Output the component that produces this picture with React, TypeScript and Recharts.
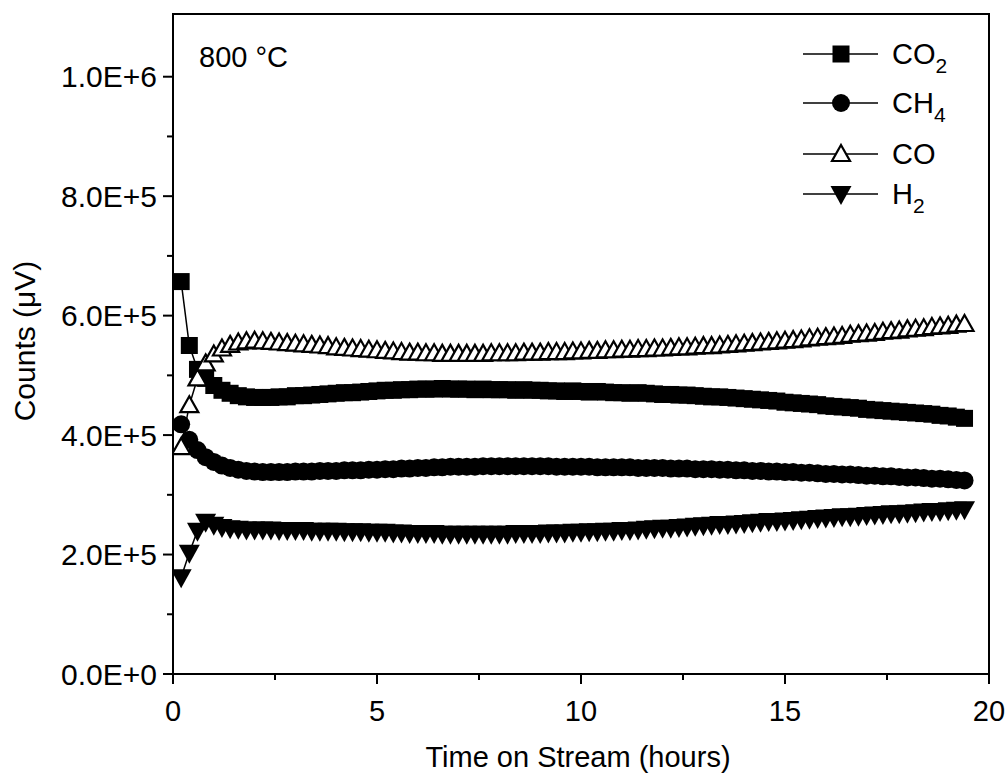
import React from "react";
import { LineChart, Line, XAxis, YAxis, ReferenceArea, Legend } from "recharts";

// Time on stream (hours)
const TIME = [
  0.2, 0.4, 0.6, 0.8, 1.0, 1.2, 1.4, 1.6, 1.8, 2.0,
  2.2, 2.4, 2.6, 2.8, 3.0, 3.2, 3.4, 3.6, 3.8, 4.0,
  4.2, 4.4, 4.6, 4.8, 5.0, 5.2, 5.4, 5.6, 5.8, 6.0,
  6.2, 6.4, 6.6, 6.8, 7.0, 7.2, 7.4, 7.6, 7.8, 8.0,
  8.2, 8.4, 8.6, 8.8, 9.0, 9.2, 9.4, 9.6, 9.8, 10.0,
  10.2, 10.4, 10.6, 10.8, 11.0, 11.2, 11.4, 11.6, 11.8, 12.0,
  12.2, 12.4, 12.6, 12.8, 13.0, 13.2, 13.4, 13.6, 13.8, 14.0,
  14.2, 14.4, 14.6, 14.8, 15.0, 15.2, 15.4, 15.6, 15.8, 16.0,
  16.2, 16.4, 16.6, 16.8, 17.0, 17.2, 17.4, 17.6, 17.8, 18.0,
  18.2, 18.4, 18.6, 18.8, 19.0, 19.2, 19.4,
];

// Counts in thousands of µV
const CO2_K = [
  657, 550, 510, 495, 483, 475, 470, 466, 464, 463,
  463, 463, 464, 464, 466, 466, 467, 468, 469, 470,
  471, 471, 472, 473, 474, 475, 475, 476, 476, 477,
  477, 477, 478, 477, 477, 477, 476, 477, 476, 476,
  476, 475, 476, 475, 475, 474, 474, 473, 474, 473,
  472, 473, 472, 471, 471, 470, 471, 470, 469, 468,
  468, 467, 467, 466, 465, 464, 464, 463, 462, 461,
  460, 459, 458, 457, 455, 454, 453, 452, 451, 449,
  448, 447, 446, 445, 443, 442, 441, 440, 439, 438,
  437, 436, 435, 433, 432, 430, 428,
];

const CH4_K = [
  418, 392, 375, 363, 355, 349, 345, 342, 340, 339,
  338, 338, 338, 338, 339, 339, 339, 340, 340, 340,
  341, 341, 341, 342, 342, 343, 343, 344, 344, 345,
  345, 346, 346, 347, 347, 347, 347, 348, 348, 348,
  348, 348, 348, 348, 348, 348, 347, 347, 347, 347,
  347, 346, 346, 346, 346, 346, 345, 345, 345, 345,
  344, 344, 344, 343, 343, 343, 342, 342, 341, 341,
  340, 340, 339, 339, 338, 338, 337, 337, 336, 335,
  335, 334, 334, 333, 332, 332, 331, 331, 330, 329,
  329, 328, 327, 327, 326, 325, 324,
];

const CO_K = [
  380, 450, 495, 520, 535, 545, 551, 555, 557, 558,
  557, 556, 555, 554, 553, 552, 551, 550, 549, 547,
  546, 545, 544, 543, 542, 541, 540, 539, 538, 538,
  537, 537, 536, 536, 536, 536, 536, 536, 537, 537,
  537, 537, 538, 538, 538, 539, 539, 539, 540, 540,
  541, 541, 542, 542, 543, 543, 544, 544, 545, 545,
  546, 547, 547, 548, 549, 549, 550, 551, 552, 553,
  554, 555, 556, 557, 558, 559, 560, 562, 563, 564,
  565, 566, 568, 569, 570, 571, 573, 574, 575, 577,
  578, 579, 581, 582, 583, 585, 586,
];

const H2_K = [
  162, 203, 240, 255, 250, 246, 244, 243, 242, 242,
  242, 242, 241, 241, 241, 241, 240, 240, 240, 240,
  239, 239, 239, 238, 238, 238, 237, 237, 236, 236,
  236, 236, 235, 235, 235, 235, 235, 235, 235, 235,
  235, 236, 236, 236, 236, 237, 237, 237, 238, 238,
  239, 239, 240, 240, 241, 241, 242, 243, 244, 245,
  245, 246, 247, 248, 249, 250, 251, 251, 252, 253,
  254, 255, 256, 256, 257, 258, 259, 260, 261, 262,
  263, 264, 264, 265, 266, 267, 268, 269, 269, 270,
  271, 272, 273, 273, 274, 275, 276,
];

const X_TICKS = [0, 2.5, 5, 7.5, 10, 12.5, 15, 17.5, 20];
const X_MAJOR = [0, 5, 10, 15, 20];
const X_LABELS = ["0", "5", "10", "15", "20"];

const Y_TICKS = [0, 100000, 200000, 300000, 400000, 500000, 600000, 700000, 800000, 900000, 1000000];
const Y_MAJOR = [0, 200000, 400000, 600000, 800000, 1000000];
const Y_LABELS = ["0.0E+0", "2.0E+5", "4.0E+5", "6.0E+5", "8.0E+5", "1.0E+6"];

const data = TIME.map((t, i) => ({
  t,
  co2: CO2_K[i] * 1000,
  ch4: CH4_K[i] * 1000,
  co: CO_K[i] * 1000,
  h2: H2_K[i] * 1000,
}));

const FONT = '"Liberation Sans", Arial, Helvetica, sans-serif';

const XTick = (props: any) => {
  const { x, y, payload } = props;
  const idx = X_MAJOR.indexOf(payload.value);
  const major = idx >= 0;
  return (
    <g>
      <line x1={x} x2={x} y1={y} y2={y + (major ? 10 : 6)} stroke="#000" strokeWidth={2} />
      {major && (
        <text x={x} y={y + 47} textAnchor="middle" fontSize={29} fontFamily={FONT} fill="#000">
          {X_LABELS[idx]}
        </text>
      )}
    </g>
  );
};

const YTick = (props: any) => {
  const { x, y, payload } = props;
  const idx = Y_MAJOR.indexOf(payload.value);
  const major = idx >= 0;
  return (
    <g>
      <line x1={x - (major ? 10 : 6)} x2={x} y1={y} y2={y} stroke="#000" strokeWidth={2} />
      {major && (
        <text x={x - 16} y={y} textAnchor="end" dominantBaseline="central" fontSize={30} fontFamily={FONT} fill="#000">
          {Y_LABELS[idx]}
        </text>
      )}
    </g>
  );
};

const squareShape = (cx: number, cy: number, k?: any) => (
  <rect key={k} x={cx - 8.5} y={cy - 8.5} width={17} height={17} fill="#000" />
);
const circleShape = (cx: number, cy: number, k?: any) => (
  <circle key={k} cx={cx} cy={cy} r={9} fill="#000" />
);
const upTriShape = (cx: number, cy: number, k?: any) => (
  <polygon
    key={k}
    points={`${cx},${cy - 9} ${cx + 9},${cy + 7} ${cx - 9},${cy + 7}`}
    fill="#fff"
    stroke="#000"
    strokeWidth={2.2}
  />
);
const downTriShape = (cx: number, cy: number, k?: any) => (
  <polygon
    key={k}
    points={`${cx - 10.5},${cy - 8} ${cx + 10.5},${cy - 8} ${cx},${cy + 11}`}
    fill="#000"
  />
);

const mkDot = (fn: any) => (p: any) => {
  if (p.cx == null || p.cy == null) return <g key={p.index} />;
  return fn(p.cx, p.cy, p.index);
};

const LEGEND_ITEMS = [
  { name: "CO", sub: "2", y: 26, shape: squareShape },
  { name: "CH", sub: "4", y: 75, shape: circleShape },
  { name: "CO", sub: "", y: 126, shape: upTriShape },
  { name: "H", sub: "2", y: 166, shape: downTriShape },
];

const renderLegend = () => (
  <svg width={210} height={200} style={{ display: "block" }}>
    {LEGEND_ITEMS.map((it, i) => (
      <g key={i}>
        <line x1={8} x2={83} y1={it.y} y2={it.y} stroke="#000" strokeWidth={1.5} />
        {it.shape(46, it.y)}
        <text x={97} y={it.y + 10} fontSize={29} fontFamily={FONT} fill="#000">
          {it.name}
          {it.sub && (
            <tspan fontSize={21} dy={9}>
              {it.sub}
            </tspan>
          )}
        </text>
      </g>
    ))}
  </svg>
);

export default function App() {
  return (
    <div
      style={{
        position: "absolute",
        left: 0,
        top: 0,
        width: 1006,
        height: 780,
        background: "#fff",
        fontFamily: FONT,
      }}
    >
      <LineChart
        width={1006}
        height={780}
        data={data}
        margin={{ top: 14, right: 17, bottom: 0, left: 0 }}
      >
        <XAxis
          dataKey="t"
          type="number"
          domain={[0, 20]}
          ticks={X_TICKS}
          interval={0}
          tickSize={0}
          tickMargin={0}
          tickLine={false}
          tick={XTick}
          axisLine={{ stroke: "#000", strokeWidth: 2 }}
          height={106}
          allowDataOverflow
          label={{
            content: () => (
              <text x={578} y={767} textAnchor="middle" fontSize={29} fontFamily={FONT} fill="#000">
                Time on Stream (hours)
              </text>
            ),
          }}
        />
        <YAxis
          type="number"
          domain={[0, 1105000]}
          ticks={Y_TICKS}
          interval={0}
          tickSize={0}
          tickMargin={0}
          tickLine={false}
          tick={YTick}
          axisLine={{ stroke: "#000", strokeWidth: 2 }}
          width={173}
          allowDataOverflow
          label={{
            content: () => (
              <text
                x={35}
                y={341}
                transform="rotate(-90 35 341)"
                textAnchor="middle"
                fontSize={30}
                fontFamily={FONT}
                fill="#000"
              >
                Counts (μV)
              </text>
            ),
          }}
        />
        <ReferenceArea
          x1={0}
          x2={20}
          y1={0}
          y2={1105000}
          fill="none"
          fillOpacity={0}
          stroke="#000"
          strokeWidth={2}
          ifOverflow="visible"
        />
        <Legend
          layout="vertical"
          align="center"
          verticalAlign="middle"
          content={renderLegend}
          wrapperStyle={{ position: "absolute", left: 795, top: 28, width: 210, height: 200 }}
        />
        <Line
          type="linear"
          dataKey="co2"
          stroke="#000"
          strokeWidth={1.5}
          dot={mkDot(squareShape)}
          activeDot={false}
          isAnimationActive={false}
          legendType="none"
        />
        <Line
          type="linear"
          dataKey="ch4"
          stroke="#000"
          strokeWidth={1.5}
          dot={mkDot(circleShape)}
          activeDot={false}
          isAnimationActive={false}
          legendType="none"
        />
        <Line
          type="linear"
          dataKey="h2"
          stroke="#000"
          strokeWidth={1.5}
          dot={mkDot(downTriShape)}
          activeDot={false}
          isAnimationActive={false}
          legendType="none"
        />
        <Line
          type="linear"
          dataKey="co"
          stroke="#000"
          strokeWidth={1.5}
          dot={mkDot(upTriShape)}
          activeDot={false}
          isAnimationActive={false}
          legendType="none"
        />
      </LineChart>
      <svg
        width={200}
        height={60}
        style={{ position: "absolute", left: 190, top: 25, pointerEvents: "none" }}
      >
        <text x={9} y={42} fontSize={29} fontFamily={FONT} fill="#000">
          800 °C
        </text>
      </svg>
    </div>
  );
}
